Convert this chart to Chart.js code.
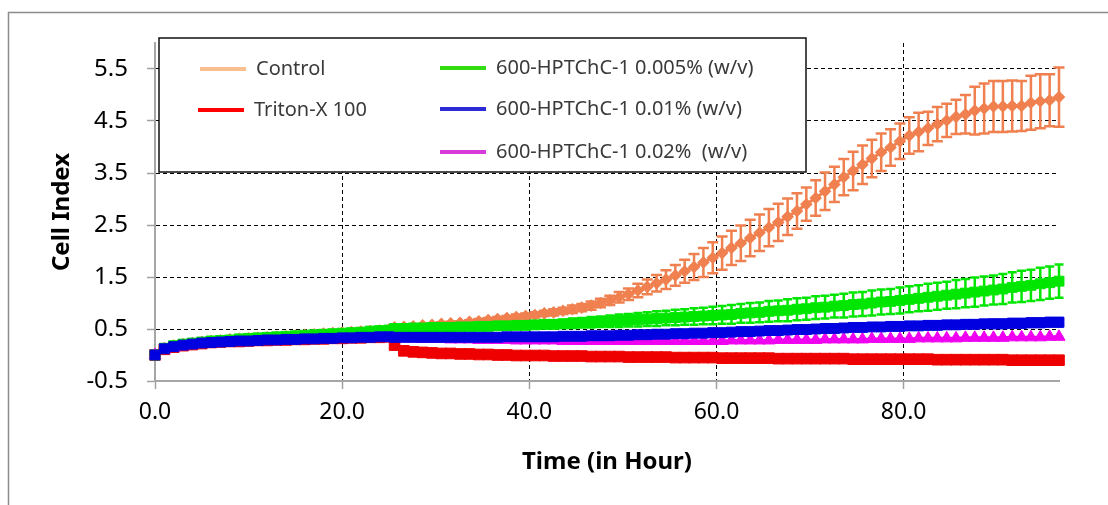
<!DOCTYPE html>
<html>
<head>
<meta charset="utf-8">
<script src="https://cdn.jsdelivr.net/npm/chart.js@4.4.1/dist/chart.umd.min.js"></script>
<style>
  html, body { margin: 0; padding: 0; background: #fff; }
</style>
</head>
<body>
<canvas id="myChart" width="1108" height="505"></canvas>
<script>
// time of each reading (h); treatment added at ~25 h
var hours = [
  0, 1, 2, 3, 4, 5, 6, 7, 8, 9,
  10, 11, 12, 13, 14, 15, 16, 17, 18, 19,
  20, 21, 22, 23, 24, 25,
  25.6, 26.6, 27.6, 28.6, 29.6, 30.6, 31.6, 32.6, 33.6, 34.6, 35.6,
  36.6, 37.6, 38.6, 39.6, 40.6, 41.6, 42.6, 43.6, 44.6, 45.6,
  46.6, 47.6, 48.6, 49.6, 50.6, 51.6, 52.6, 53.6, 54.6, 55.6,
  56.6, 57.6, 58.6, 59.6, 60.6, 61.6, 62.6, 63.6, 64.6, 65.6,
  66.6, 67.6, 68.6, 69.6, 70.6, 71.6, 72.6, 73.6, 74.6, 75.6,
  76.6, 77.6, 78.6, 79.6, 80.6, 81.6, 82.6, 83.6, 84.6, 85.6,
  86.6, 87.6, 88.6, 89.6, 90.6, 91.6, 92.6, 93.6, 94.6, 95.6, 96.6
];

var control = [
  0.00, 0.13, 0.18, 0.21, 0.23, 0.25, 0.27, 0.28, 0.30, 0.31,
  0.32, 0.33, 0.34, 0.35, 0.36, 0.37, 0.39, 0.40, 0.41, 0.42,
  0.43, 0.44, 0.45, 0.46, 0.47, 0.49,
  0.53, 0.54, 0.55, 0.57, 0.58, 0.60, 0.61, 0.62, 0.64, 0.65, 0.67,
  0.69, 0.71, 0.73, 0.75, 0.77, 0.80, 0.82, 0.85, 0.88, 0.91,
  0.95, 1.00, 1.05, 1.11, 1.17, 1.24, 1.31, 1.38, 1.45, 1.53,
  1.61, 1.69, 1.78, 1.87, 1.96, 2.06, 2.15, 2.25, 2.35, 2.45,
  2.55, 2.66, 2.77, 2.90, 3.02, 3.15, 3.28, 3.42, 3.54, 3.66,
  3.78, 3.90, 3.99, 4.11, 4.22, 4.29, 4.36, 4.44, 4.51, 4.58,
  4.63, 4.70, 4.74, 4.78, 4.78, 4.79, 4.79, 4.85, 4.88, 4.90, 4.96
];
var controlSD = [
  0.00, 0.01, 0.01, 0.01, 0.01, 0.01, 0.01, 0.01, 0.01, 0.01,
  0.01, 0.01, 0.01, 0.02, 0.02, 0.02, 0.02, 0.02, 0.02, 0.02,
  0.02, 0.02, 0.02, 0.02, 0.02, 0.02,
  0.02, 0.02, 0.02, 0.02, 0.03, 0.03, 0.03, 0.03, 0.03, 0.04, 0.04,
  0.04, 0.04, 0.05, 0.05, 0.05, 0.05, 0.06, 0.06, 0.07, 0.07,
  0.08, 0.08, 0.09, 0.10, 0.11, 0.13, 0.14, 0.16, 0.18, 0.20,
  0.22, 0.25, 0.28, 0.30, 0.32, 0.33, 0.34, 0.35, 0.35, 0.36,
  0.36, 0.35, 0.34, 0.32, 0.34, 0.36, 0.34, 0.35, 0.37, 0.37,
  0.36, 0.36, 0.35, 0.34, 0.35, 0.37, 0.32, 0.33, 0.32, 0.33,
  0.37, 0.46, 0.48, 0.49, 0.49, 0.49, 0.48, 0.52, 0.52, 0.50, 0.57
];

var triton = [
  0.00, 0.11, 0.15, 0.18, 0.20, 0.22, 0.24, 0.25, 0.26, 0.26,
  0.27, 0.28, 0.28, 0.29, 0.29, 0.30, 0.30, 0.31, 0.31, 0.32,
  0.32, 0.33, 0.33, 0.34, 0.34, 0.35,
  0.19, 0.08, 0.06, 0.05, 0.04, 0.03, 0.03, 0.02, 0.02, 0.01, 0.01,
  0.00, 0.00, -0.01, -0.01, -0.01, -0.01, -0.02, -0.02, -0.02, -0.02,
  -0.03, -0.03, -0.03, -0.03, -0.04, -0.04, -0.04, -0.04, -0.04, -0.05,
  -0.05, -0.05, -0.05, -0.05, -0.06, -0.06, -0.06, -0.06, -0.06, -0.06,
  -0.07, -0.07, -0.07, -0.07, -0.07, -0.07, -0.07, -0.07, -0.08, -0.08,
  -0.08, -0.08, -0.08, -0.08, -0.08, -0.08, -0.08, -0.09, -0.09, -0.09,
  -0.09, -0.09, -0.09, -0.09, -0.09, -0.10, -0.10, -0.10, -0.10, -0.10, -0.10
];

var hpt005 = [
  0.00, 0.13, 0.18, 0.21, 0.23, 0.25, 0.27, 0.28, 0.29, 0.31,
  0.32, 0.33, 0.34, 0.35, 0.36, 0.37, 0.38, 0.39, 0.40, 0.41,
  0.42, 0.43, 0.44, 0.46, 0.47, 0.48,
  0.51, 0.51, 0.52, 0.52, 0.53, 0.53, 0.53, 0.54, 0.54, 0.55, 0.55,
  0.56, 0.56, 0.57, 0.57, 0.58, 0.59, 0.59, 0.60, 0.61, 0.62,
  0.63, 0.64, 0.65, 0.66, 0.67, 0.68, 0.69, 0.70, 0.71, 0.72,
  0.73, 0.74, 0.75, 0.76, 0.77, 0.78, 0.80, 0.81, 0.82, 0.84,
  0.85, 0.86, 0.88, 0.89, 0.91, 0.92, 0.94, 0.95, 0.97, 0.98,
  1.00, 1.02, 1.03, 1.05, 1.07, 1.09, 1.11, 1.13, 1.15, 1.17,
  1.19, 1.21, 1.23, 1.25, 1.27, 1.30, 1.32, 1.34, 1.37, 1.39, 1.42
];
var hpt005SD = [
  0.00, 0.01, 0.01, 0.01, 0.01, 0.01, 0.01, 0.01, 0.01, 0.01,
  0.01, 0.01, 0.01, 0.01, 0.01, 0.01, 0.01, 0.01, 0.01, 0.01,
  0.01, 0.01, 0.01, 0.01, 0.02, 0.02,
  0.02, 0.02, 0.02, 0.03, 0.03, 0.03, 0.03, 0.04, 0.04, 0.04, 0.05,
  0.05, 0.05, 0.06, 0.06, 0.07, 0.07, 0.08, 0.08, 0.09, 0.09,
  0.10, 0.10, 0.11, 0.12, 0.12, 0.13, 0.13, 0.14, 0.14, 0.15,
  0.15, 0.16, 0.16, 0.17, 0.17, 0.18, 0.18, 0.19, 0.19, 0.20,
  0.20, 0.21, 0.21, 0.21, 0.22, 0.22, 0.22, 0.23, 0.23, 0.23,
  0.24, 0.24, 0.24, 0.25, 0.25, 0.25, 0.26, 0.26, 0.26, 0.27,
  0.27, 0.28, 0.28, 0.28, 0.29, 0.29, 0.30, 0.30, 0.31, 0.31, 0.32
];

var hpt001 = [
  0.00, 0.12, 0.16, 0.19, 0.21, 0.23, 0.24, 0.25, 0.26, 0.27,
  0.27, 0.28, 0.29, 0.29, 0.30, 0.30, 0.31, 0.31, 0.32, 0.32,
  0.33, 0.33, 0.34, 0.34, 0.35, 0.35,
  0.34, 0.34, 0.34, 0.34, 0.34, 0.34, 0.34, 0.34, 0.34, 0.34, 0.34,
  0.34, 0.35, 0.35, 0.35, 0.35, 0.35, 0.35, 0.36, 0.36, 0.36,
  0.37, 0.37, 0.37, 0.38, 0.38, 0.39, 0.39, 0.40, 0.40, 0.41,
  0.41, 0.42, 0.42, 0.43, 0.43, 0.44, 0.45, 0.45, 0.46, 0.47,
  0.47, 0.48, 0.49, 0.49, 0.50, 0.51, 0.51, 0.52, 0.53, 0.53,
  0.54, 0.54, 0.55, 0.55, 0.56, 0.56, 0.57, 0.57, 0.58, 0.58,
  0.59, 0.59, 0.60, 0.60, 0.60, 0.61, 0.61, 0.62, 0.62, 0.63, 0.63
];
var hpt001SD = [
  0.00, 0.01, 0.01, 0.01, 0.01, 0.01, 0.01, 0.01, 0.01, 0.01,
  0.01, 0.01, 0.01, 0.01, 0.01, 0.01, 0.01, 0.01, 0.01, 0.01,
  0.01, 0.01, 0.01, 0.01, 0.01, 0.01,
  0.01, 0.01, 0.01, 0.01, 0.01, 0.01, 0.01, 0.01, 0.01, 0.01, 0.01,
  0.02, 0.02, 0.02, 0.02, 0.02, 0.02, 0.02, 0.03, 0.03, 0.03,
  0.03, 0.03, 0.03, 0.03, 0.04, 0.04, 0.04, 0.04, 0.04, 0.04,
  0.04, 0.04, 0.05, 0.05, 0.05, 0.05, 0.05, 0.05, 0.05, 0.05,
  0.06, 0.06, 0.06, 0.06, 0.06, 0.06, 0.06, 0.06, 0.06, 0.06,
  0.06, 0.06, 0.07, 0.07, 0.07, 0.07, 0.07, 0.07, 0.07, 0.07,
  0.07, 0.07, 0.07, 0.08, 0.08, 0.08, 0.08, 0.08, 0.08, 0.08, 0.08
];

var hpt002 = [
  0.00, 0.10, 0.14, 0.17, 0.20, 0.22, 0.23, 0.24, 0.25, 0.26,
  0.26, 0.27, 0.28, 0.28, 0.29, 0.29, 0.30, 0.30, 0.31, 0.31,
  0.32, 0.32, 0.33, 0.33, 0.34, 0.34,
  0.33, 0.32, 0.32, 0.31, 0.31, 0.31, 0.30, 0.30, 0.30, 0.29, 0.29,
  0.29, 0.29, 0.28, 0.28, 0.28, 0.28, 0.28, 0.27, 0.27, 0.27,
  0.27, 0.27, 0.27, 0.27, 0.27, 0.27, 0.27, 0.27, 0.27, 0.27,
  0.27, 0.27, 0.27, 0.27, 0.27, 0.28, 0.28, 0.28, 0.28, 0.28,
  0.29, 0.29, 0.29, 0.29, 0.29, 0.30, 0.30, 0.30, 0.30, 0.30,
  0.31, 0.31, 0.31, 0.31, 0.31, 0.32, 0.32, 0.32, 0.32, 0.32,
  0.33, 0.33, 0.33, 0.33, 0.33, 0.34, 0.34, 0.34, 0.34, 0.35, 0.35
];

var seriesNames = [
  'Control',
  'Triton-X 100',
  '600-HPTChC-1 0.005% (w/v)',
  '600-HPTChC-1 0.01% (w/v)',
  '600-HPTChC-1 0.02%  (w/v)'
];
var xTicks = [0, 20, 40, 60, 80];
var yTicks = [-0.5, 0.5, 1.5, 2.5, 3.5, 4.5, 5.5];

var FONT = "'Noto Sans', 'Liberation Sans', sans-serif";

function pts(values) {
  return values.map(function (v, i) { return { x: hours[i], y: v }; });
}

// legend box placement + swatch colours (swatches are lighter than the markers)
var legendBox = { x: 159, y: 38, w: 647, h: 134 };
var legendItems = [
  { x: 200, y: 69, color: '#F9BF8F' },
  { x: 198, y: 110, color: '#FF0000' },
  { x: 440, y: 68, color: '#33DD11' },
  { x: 440, y: 109, color: '#2B2BD8' },
  { x: 440, y: 152, color: '#D83AD8' }
];

var errorBars = {
  id: 'errorBars',
  afterDatasetDraw: function (chart, args) {
    var ds = chart.data.datasets[args.index];
    if (!ds.sd) return;
    var ctx = chart.ctx, xs = chart.scales.x, ys = chart.scales.y;
    var half = ds.capWidth / 2;
    ctx.save();
    ctx.strokeStyle = ds.borderColor;
    ctx.lineWidth = ds.barWidth;
    ds.data.forEach(function (p, i) {
      var e = ds.sd[i];
      if (!e) return;
      var x = xs.getPixelForValue(p.x);
      var y1 = ys.getPixelForValue(p.y + e);
      var y2 = ys.getPixelForValue(p.y - e);
      ctx.beginPath();
      ctx.moveTo(x, y1); ctx.lineTo(x, y2);
      ctx.moveTo(x - half, y1); ctx.lineTo(x + half, y1);
      ctx.moveTo(x - half, y2); ctx.lineTo(x + half, y2);
      ctx.stroke();
    });
    ctx.restore();
  }
};

var frameAndLegend = {
  id: 'frameAndLegend',
  beforeDraw: function (chart) {
    var ctx = chart.ctx;
    ctx.save();
    ctx.fillStyle = '#fff';
    ctx.fillRect(0, 0, chart.width, chart.height);
    ctx.strokeStyle = '#8c8c8c';
    ctx.lineWidth = 1.5;
    ctx.strokeRect(8.5, 12.5, 1300, 700);
    ctx.restore();
  },
  afterDraw: function (chart) {
    var ctx = chart.ctx;
    ctx.save();
    ctx.fillStyle = '#fff';
    ctx.fillRect(legendBox.x, legendBox.y, legendBox.w, legendBox.h);
    ctx.strokeStyle = '#111';
    ctx.lineWidth = 1.5;
    ctx.strokeRect(legendBox.x, legendBox.y, legendBox.w, legendBox.h);
    ctx.font = '20px ' + FONT;
    ctx.textBaseline = 'middle';
    legendItems.forEach(function (it, i) {
      ctx.strokeStyle = it.color;
      ctx.lineWidth = 4;
      ctx.beginPath();
      ctx.moveTo(it.x, it.y);
      ctx.lineTo(it.x + 46, it.y);
      ctx.stroke();
      ctx.fillStyle = '#3a3a3a';
      ctx.fillText(chart.data.datasets[i].label, it.x + 56, it.y);
    });
    ctx.restore();
  }
};

var ctx = document.getElementById('myChart').getContext('2d');

var myChart = new Chart(ctx, {
  type: 'line',
  data: {
    datasets: [{
      label: seriesNames[0],
      data: pts(control),
      sd: controlSD, capWidth: 11, barWidth: 2.5,
      borderColor: '#F0804F', backgroundColor: '#F0804F',
      borderWidth: 3,
      pointStyle: 'rectRot', pointRadius: 4.2, order: 4
    }, {
      label: seriesNames[1],
      data: pts(triton),
      borderColor: '#EE0000', backgroundColor: '#EE0000',
      pointStyle: 'rect', pointRadius: 7.5, order: 3
    }, {
      label: seriesNames[2],
      data: pts(hpt005),
      sd: hpt005SD, capWidth: 9, barWidth: 2.5,
      borderColor: '#00E600', backgroundColor: '#00E600',
      pointStyle: 'rect', pointRadius: 7, order: 1
    }, {
      label: seriesNames[3],
      data: pts(hpt001),
      sd: hpt001SD, capWidth: 9, barWidth: 2.5,
      borderColor: '#0000E0', backgroundColor: '#0000E0',
      pointStyle: 'rect', pointRadius: 7, order: 0
    }, {
      label: seriesNames[4],
      data: pts(hpt002),
      borderColor: '#F000F0', backgroundColor: '#F000F0',
      pointStyle: 'triangle', pointRadius: 7, order: 2
    }]
  },
  options: {
    responsive: false,
    animation: false,
    events: [],
    clip: false,
    layout: { padding: { left: 0, top: 43, right: 49, bottom: 0 } },
    elements: {
      line: { borderWidth: 3, tension: 0 },
      point: { borderWidth: 1 }
    },
    plugins: {
      legend: { display: false },
      tooltip: { enabled: false }
    },
    scales: {
      x: {
        type: 'linear',
        min: 0,
        max: 96.6,
        afterBuildTicks: function (s) { s.ticks = xTicks.map(function (v) { return { value: v }; }); },
        afterFit: function (s) { s.height = 124; },
        ticks: {
          color: '#000',
          padding: 10,
          font: { family: FONT, size: 23 },
          callback: function (v) { return v.toFixed(1); }
        },
        grid: {
          color: function (c) { return c.tick && c.tick.value === 0 ? 'rgba(0,0,0,0)' : '#000'; },
          lineWidth: 1,
          tickColor: '#a0a0a0',
          tickWidth: 1.5,
          tickLength: 8,
          tickBorderDash: []
        },
        border: { display: true, color: '#a6a6a6', width: 2, dash: [4, 3] },
        title: {
          display: true,
          text: 'Time (in Hour)',
          color: '#000',
          font: { family: FONT, size: 24, weight: 'bold' },
          padding: { top: 0, bottom: 28 }
        }
      },
      y: {
        type: 'linear',
        min: -0.5,
        max: 6.0,
        afterBuildTicks: function (s) { s.ticks = yTicks.map(function (v) { return { value: v }; }); },
        afterFit: function (s) { s.width = 155; },
        ticks: {
          color: '#000',
          padding: 19,
          font: { family: FONT, size: 24 },
          callback: function (v) { return v.toFixed(1); }
        },
        grid: {
          color: function (c) { return c.tick && c.tick.value === -0.5 ? 'rgba(0,0,0,0)' : '#000'; },
          lineWidth: 1,
          tickColor: '#a0a0a0',
          tickWidth: 1.5,
          tickLength: 8,
          tickBorderDash: []
        },
        border: { display: true, color: '#a6a6a6', width: 2, dash: [4, 3] },
        title: {
          display: true,
          text: 'Cell Index',
          color: '#000',
          font: { family: FONT, size: 24, weight: 'bold' },
          padding: { top: 48, bottom: 0 }
        }
      }
    }
  },
  plugins: [errorBars, frameAndLegend]
});
</script>
</body>
</html>
